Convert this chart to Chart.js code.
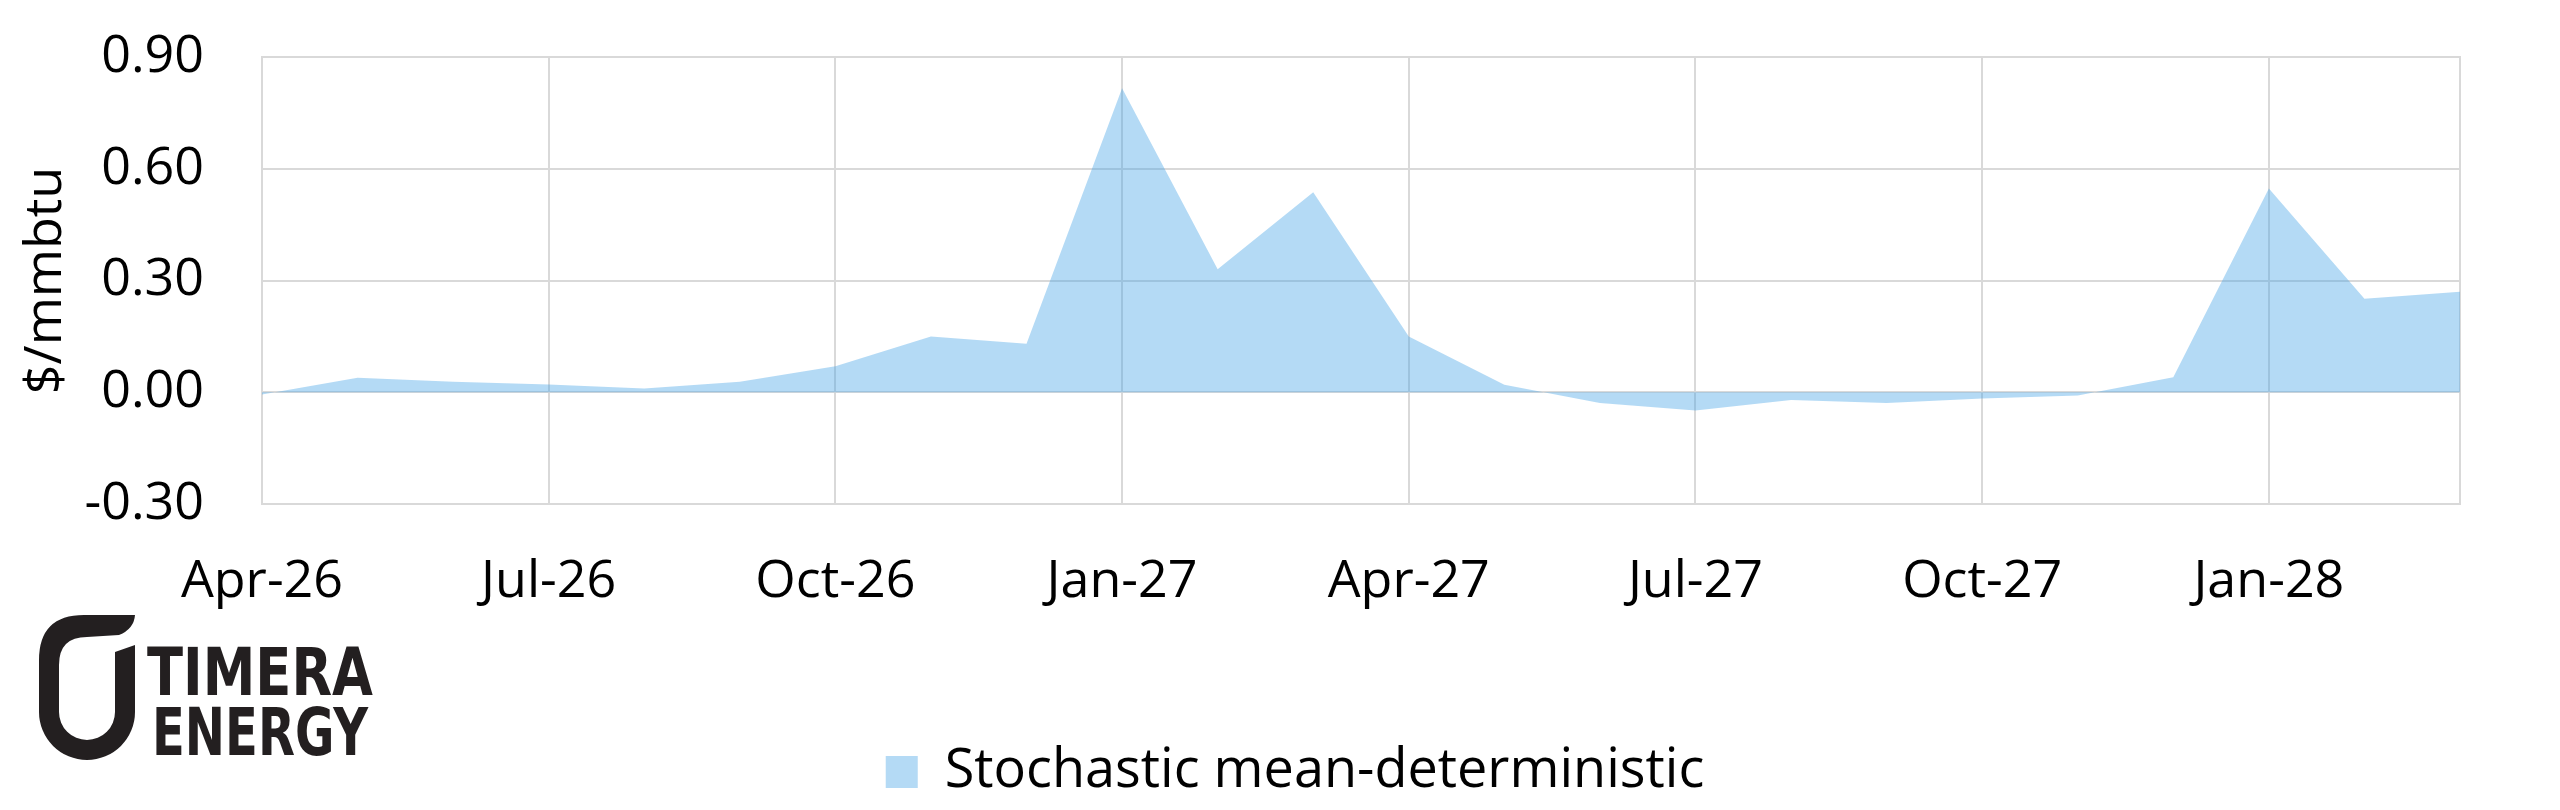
<!DOCTYPE html>
<html>
<head>
<meta charset="utf-8">
<script src="https://cdn.jsdelivr.net/npm/chart.js@4.4.1/dist/chart.umd.min.js"></script>
<style>
  html, body { margin: 0; padding: 0; background: #fff; }
  #wrap { position: relative; width: 2560px; height: 810px; }
  #chart { position: absolute; left: 0; top: 0; }
  #logo { position: absolute; left: 0; top: 590px; }
</style>
</head>
<body>
<div id="wrap">
  <canvas id="chart" width="2560" height="810"></canvas>
  <svg id="logo" width="400" height="200" viewBox="0 0 400 200">
    <path transform="translate(39,25)" fill="#231f20"
      d="M96,0 L45,0 Q0,0 0,45 L0,97 A48,48 0 0 0 96,97 L96,30 L76,37 L76,97 A28,28 0 0 1 20,97 L20,50 Q20,22 48,22 L80,20 Q95,14 96,0 Z"/>
    <text x="147" y="105" textLength="226" lengthAdjust="spacingAndGlyphs"
      font-family="DejaVu Sans Condensed, DejaVu Sans, sans-serif" font-weight="bold" font-size="66" fill="#231f20">TIMERA</text>
    <text x="152" y="165" textLength="216" lengthAdjust="spacingAndGlyphs"
      font-family="DejaVu Sans Condensed, DejaVu Sans, sans-serif" font-weight="bold" font-size="66" fill="#231f20">ENERGY</text>
  </svg>
</div>
<script>
// monthly points, Apr-26 .. Mar-28
const months = [
  'Apr-26', 'May-26', 'Jun-26', 'Jul-26', 'Aug-26', 'Sep-26',
  'Oct-26', 'Nov-26', 'Dec-26', 'Jan-27', 'Feb-27', 'Mar-27',
  'Apr-27', 'May-27', 'Jun-27', 'Jul-27', 'Aug-27', 'Sep-27',
  'Oct-27', 'Nov-27', 'Dec-27', 'Jan-28', 'Feb-28', 'Mar-28'
];
const spread = [
  -0.006, 0.039, 0.028, 0.021, 0.010, 0.028,
  0.070, 0.150, 0.130, 0.816, 0.330, 0.537,
  0.150, 0.020, -0.029, -0.049, -0.021, -0.029,
  -0.017, -0.009, 0.040, 0.547, 0.251, 0.270
];
const seriesName = 'Stochastic mean-deterministic';
const yTitle = '$/mmbtu';
const yMin = -0.3, yMax = 0.9, yStep = 0.3;

const font = 'Open Sans';
const gridColor = '#d9d9d9';

// legend in the original sits a bit right of the canvas centre
const legendShift = {
  id: 'legendShift',
  afterLayout(chart) {
    chart.legend.left += 62;
    chart.legend.right += 62;
  }
};

new Chart(document.getElementById('chart'), {
  type: 'line',
  data: {
    labels: months,
    datasets: [{
      label: seriesName,
      data: spread,
      fill: 'origin',
      backgroundColor: 'rgba(67,162,230,0.4)',
      borderWidth: 0,
      borderColor: 'rgba(0,0,0,0)',
      pointRadius: 0,
      tension: 0
    }]
  },
  plugins: [legendShift],
  options: {
    responsive: false,
    animation: false,
    layout: { padding: { left: 6, right: 100, top: 0, bottom: 1 } },
    plugins: {
      legend: {
        position: 'bottom',
        labels: {
          font: { family: font, size: 54 },
          color: '#000',
          boxWidth: 32,
          boxHeight: 32,
          padding: 20
        }
      },
      tooltip: { enabled: false }
    },
    scales: {
      x: {
        type: 'category',
        offset: false,
        grid: {
          color: gridColor,
          lineWidth: 2,
          drawTicks: false
        },
        border: { color: gridColor, width: 2 },
        ticks: {
          autoSkip: false,
          maxRotation: 0,
          padding: 47,
          color: '#000',
          font: { family: font, size: 52 },
          callback: (v, i) => (i % 3 === 0 ? months[i] : null)
        },
        afterFit: s => { s.height = 221; }
      },
      y: {
        min: yMin,
        max: yMax,
        grid: { color: gridColor, lineWidth: 2, drawTicks: false },
        border: { color: gridColor, width: 2 },
        ticks: {
          stepSize: yStep,
          padding: 58,
          color: '#000',
          font: { family: font, size: 52 },
          callback: v => v.toFixed(2)
        },
        title: {
          display: true,
          text: yTitle,
          color: '#000',
          font: { family: font, size: 52 },
          padding: 9
        },
        afterFit: s => {
          s.width = 256;
          s.paddingTop = 57;
          s.paddingBottom = 0;
        }
      },
      yRight: {
        position: 'right',
        min: yMin,
        max: yMax,
        grid: { display: false, drawTicks: false },
        border: { display: true, color: gridColor, width: 2 },
        ticks: { display: false }
      }
    }
  }
});
</script>
</body>
</html>
